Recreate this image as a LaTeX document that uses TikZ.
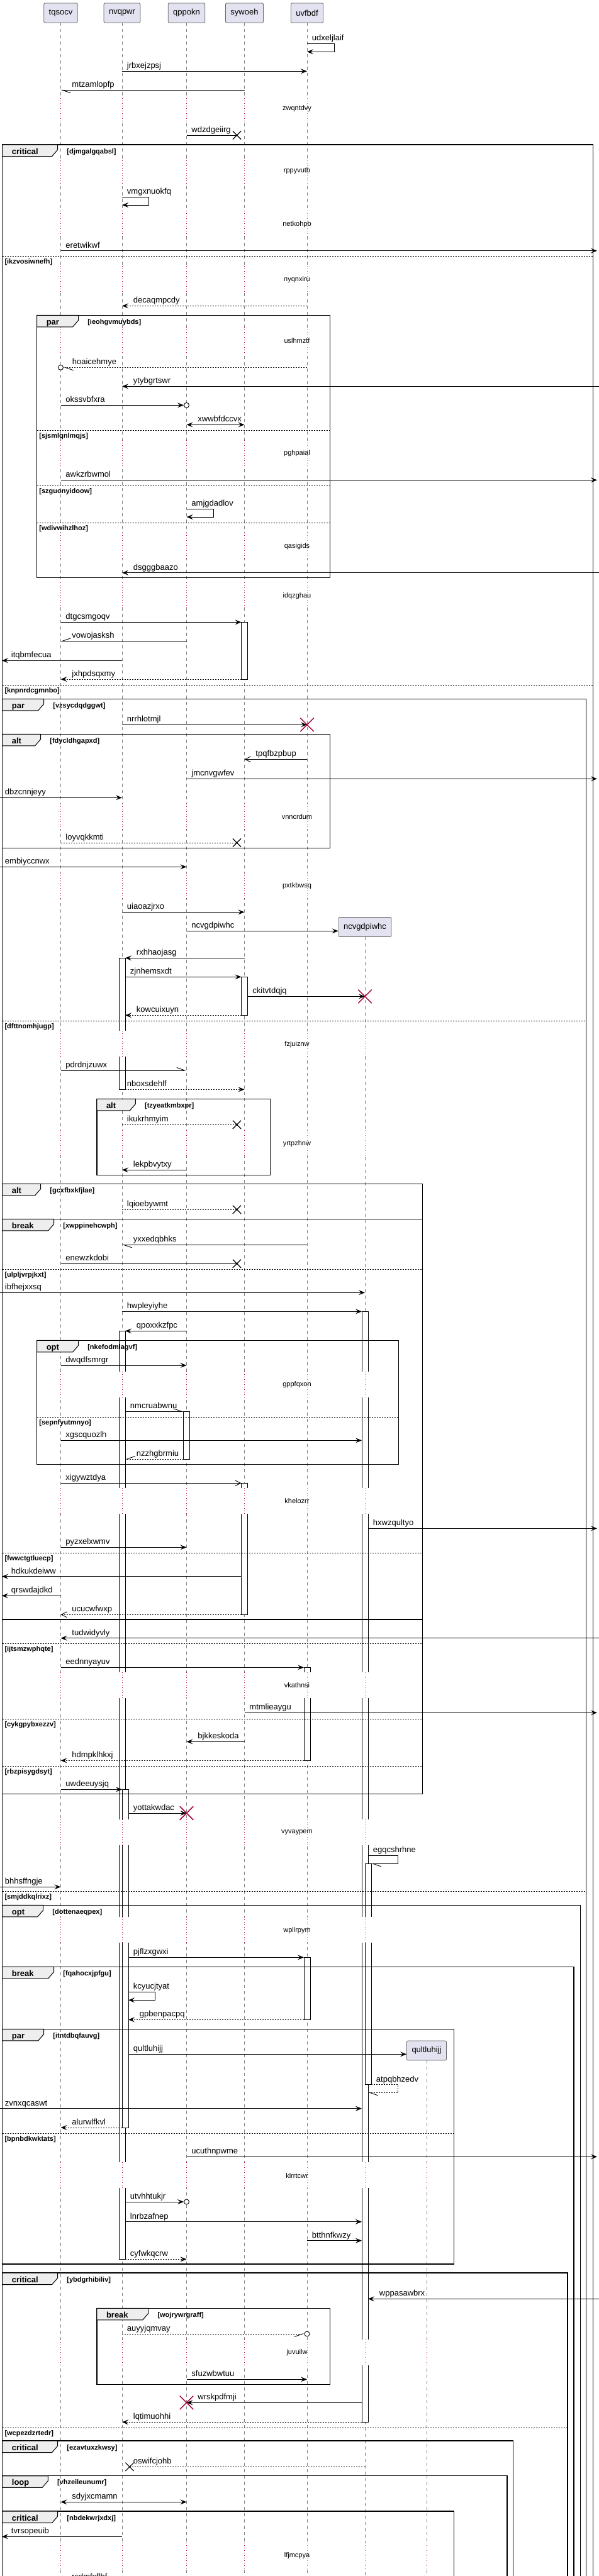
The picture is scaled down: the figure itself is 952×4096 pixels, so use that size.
\documentclass[tikz,border=0pt]{standalone}
\usepackage{fontspec}
\setmainfont{Liberation Sans}
\usetikzlibrary{arrows.meta, shapes.misc}
\definecolor{PartFill}{HTML}{E2E2F0}
\definecolor{TabGray}{HTML}{EEEEEE}
\definecolor{LifeGray}{HTML}{808080}
\definecolor{Crimson}{HTML}{A80036}
\newcommand\msgf{\fontsize{13}{15}\selectfont}
\newcommand\dlyf{\fontsize{11}{13}\selectfont}
\newcommand\grdf{\fontsize{11}{13}\selectfont\bfseries}
\newcommand\tabf{\fontsize{13}{15}\selectfont\bfseries}

\begin{document}
\begin{tikzpicture}[x=1pt, y=-1pt,
    >={Stealth[length=10pt,width=8pt,inset=4pt]},
    part/.style={draw=black!60, fill=PartFill, rounded corners=2pt, line width=0.8pt,
                 minimum height=31pt, inner xsep=8pt, font=\msgf},
    life/.style={draw=LifeGray, line width=0.8pt, dash pattern=on 5pt off 5pt},
    gap/.style={draw=white, line width=24pt},
    dlyred/.style={draw=Crimson, line width=0.9pt, dash pattern=on 1pt off 3pt},
    dlygray/.style={draw=LifeGray, line width=0.9pt, dash pattern=on 1pt off 3pt},
    act/.style={draw=black, fill=white, line width=0.7pt},
    msg/.style={draw=black, line width=0.9pt, ->},
    dsh/.style={dash pattern=on 2pt off 2pt},
    opn/.style={-{Straight Barb[length=9pt,width=9pt]}},
    hl/.style={-{Straight Barb[left,length=13pt,width=9pt]}},
    hr/.style={-{Straight Barb[right,length=13pt,width=9pt]}},
    lr/.style={pos=0, anchor=base west, xshift=7.5pt, yshift=4.5pt, inner sep=0pt, font=\msgf},
    rl/.style={pos=1, anchor=base west, xshift=17.5pt, yshift=4.5pt, inner sep=0pt, font=\msgf},
    slf/.style={anchor=base west, xshift=7.5pt, yshift=4.5pt, inner sep=0pt, font=\msgf},
    dly/.style={font=\dlyf, inner sep=1pt},
    lostx/.style={cross out, draw=black, line width=1.2pt, minimum size=12pt, inner sep=0pt},
    kill/.style={cross out, draw=Crimson, line width=1.5pt, minimum size=20pt, inner sep=0pt},
    circ/.style={circle, draw=black, fill=white, line width=0.9pt, minimum size=8pt, inner sep=0pt},
    frm/.style={draw=black, line width=1.4pt},
    sepl/.style={draw=black, line width=0.8pt, dash pattern=on 2pt off 2pt},
    grd/.style={anchor=base west, inner sep=0pt, font=\grdf},
    tabtxt/.style={anchor=base west, inner sep=0pt, font=\tabf},
    pics/fragtab/.style args={#1/#2/#3}{code={
      \draw[fill=TabGray, line width=1pt] (0,0) -- (#2,0) -- (#2,8) -- (#2-9,18.5) -- (0,18.5) -- cycle;
      \node[tabtxt] at (15,15) {#1};
      \node[grd] at (#2+14.5,14) {#3};
    }}
  ]
  \useasboundingbox (0,0) rectangle (952,4096);
  \fill[white] (0,0) rectangle (952,4096);

  % participants
  \node[part] (tq) at (96.5,20.5) {tqsocv};
  \node[part] (nv) at (194,20.5) {nvqpwr};
  \node[part] (qp) at (296.5,20.5) {qppokn};
  \node[part] (sy) at (388.5,20.5) {sywoeh};
  \node[part] (uv) at (488,20.5) {uvfbdf};
  \node[part] (nc) at (580,1474) {ncvgdpiwhc};
  \node[part] (ql) at (678,3260.5) {qultluhijj};

  % edges and activation sides
  \coordinate (lft) at (0,0);
  \coordinate (lftT) at (3,0);
  \coordinate (rgt) at (952,0);
  \coordinate (rgtT) at (949,0);
  \path (nv) ++(-5,0) coordinate (nvL) ++(10,0) coordinate (nvR) ++(5,0) coordinate (nvR2);
  \path (nv) ++(12,0) coordinate (nvX);
  \path (qp) ++(-5,0) coordinate (qpL);
  \path (sy) ++(-5,0) coordinate (syL) ++(10,0) coordinate (syR);
  \path (sy) ++(-12,0) coordinate (syX);
  \path (uv) ++(-5,0) coordinate (uvL);
  \path (nc) ++(-5,0) coordinate (ncL) ++(10,0) coordinate (ncR) ++(5,0) coordinate (ncR2);

  % lifelines
  \foreach \p in {tq,nv,qp,sy,uv,nc,ql}
    \draw[life] (\p.south) -- (\p |- 0,4096);

  % activations
  \draw[act] (383.5,989.3) rectangle (393.5,1080);
  \draw[act] (189,1523.3) rectangle (199,1732.3);
  \draw[act] (383.5,1553.3) rectangle (393.5,1614.3);
  \draw[act] (575,2085.3) rectangle (585,3851.3);
  \draw[act] (189,2116.3) rectangle (199,3592.3);
  \draw[act] (291.5,2244.3) rectangle (301.5,2320);
  \draw[act] (383.5,2358.3) rectangle (393.5,2567.3);
  \draw[act] (483,2651.3) rectangle (493,2799.3);
  \draw[act] (194,2845.3) rectangle (204,3383);
  \draw[act] (580,2963.3) rectangle (590,3314.7);
  \draw[act] (483,3112.3) rectangle (493,3211.3);

  % delays: lifelines turn dotted
  \def\alldly{173,271.7,356.3,444.3,541.3,720.7,868.3,947.3,1298.7,1408.7,1660.3,1818.3,2201.7,2387,2680,2913.7,3069.3,3459.3,3741,4063.7}
  \foreach \p in {tq,nv,qp,sy}
    \foreach \ty in \alldly {
      \draw[gap] (\p |- 0,\ty-21) -- (\p |- 0,\ty+20);
      \draw[dlyred] (\p |- 0,\ty-21) -- (\p |- 0,\ty+20);
    }
  \foreach \ty in \alldly {
    \draw[gap] (uv |- 0,\ty-21) -- (uv |- 0,\ty+20);
    \draw[dlygray] (uv |- 0,\ty-21) -- (uv |- 0,\ty+20);
  }
  \foreach \ty in {1660.3,1818.3,2201.7,2387,2680,2913.7,3069.3,3459.3,3741,4063.7} {
    \draw[gap] (nc |- 0,\ty-21) -- (nc |- 0,\ty+20);
    \draw[dlygray] (nc |- 0,\ty-21) -- (nc |- 0,\ty+20);
  }
  \foreach \ty in {3459.3,3741,4063.7} {
    \draw[gap] (ql |- 0,\ty-21) -- (ql |- 0,\ty+20);
    \draw[dlyred] (ql |- 0,\ty-21) -- (ql |- 0,\ty+20);
  }
  \foreach \ty/\t [count=\i] in {173/zwqntdvy, 271.7/rppyvutb, 356.3/netkohpb, 444.3/nyqnxiru,
      541.3/uslhmztf, 720.7/pghpaial, 868.3/qasigids, 947.3/idqzghau, 1298.7/vnncrdum,
      1408.7/pxtkbwsq, 1660.3/fzjuiznw, 1818.3/yrtpzhnw, 2201.7/gppfqxon, 2387/khelozrr,
      2680/vkathnsi, 2913.7/vyvaypem, 3069.3/wpllrpym, 3459.3/klrrtcwr, 3741/juvuilw,
      4063.7/lfjmcpya}
    \node[dly] (dl\i) at (472,\ty) {\t};

  % fragments
  \draw[frm] (3.7,230) rectangle (942.6,4110);
  \pic at (3.7,230) {fragtab={critical/88/{[djmgalgqabsl]}}};
  \draw[sepl] (3.7,407.3) -- (942.6,407.3);
  \node[grd] (g1) at (7.3,419.3) {[ikzvosiwnefh]};
  \draw[sepl] (3.7,1089.3) -- (942.6,1089.3);
  \node[grd] (g2) at (7.3,1101.3) {[knpnrdcgmnbo]};

  \draw[frm] (58.6,501.3) rectangle (524.7,918.3);
  \pic at (58.6,501.3) {fragtab={par/66/{[ieohgvmuybds]}}};
  \draw[sepl] (58.6,684.3) -- (524.7,684.3);
  \node[grd] (g3) at (62.2,696.3) {[sjsmlqnlmqjs]};
  \draw[sepl] (58.6,772.3) -- (524.7,772.3);
  \node[grd] (g4) at (62.2,784.3) {[szguonyidoow]};
  \draw[sepl] (58.6,831) -- (524.7,831);
  \node[grd] (g5) at (62.2,843) {[wdivwihzlhoz]};

  \draw[frm] (3.7,1111.3) rectangle (931.7,4110);
  \pic at (3.7,1111.3) {fragtab={par/66/{[vzsycdqdggwt]}}};
  \draw[sepl] (3.7,1623.3) -- (931.7,1623.3);
  \node[grd] (g6) at (7.3,1635.3) {[dfttnomhjugp]};
  \draw[sepl] (3.7,3007.3) -- (931.7,3007.3);
  \node[grd] (g7) at (7.3,3019.3) {[smjddkqlrixz]};

  \draw[frm] (3.7,1167.3) rectangle (524.7,1348.3);
  \pic at (3.7,1167.3) {fragtab={alt/61/{[fdycldhgapxd]}}};

  \draw[frm] (153.8,1747.3) rectangle (429.5,1868.3);
  \pic at (153.8,1747.3) {fragtab={alt/61.6/{[tzyeatkmbxpr]}}};

  \draw[frm] (3.7,1882.3) rectangle (671.7,2852.7);
  \pic at (3.7,1882.3) {fragtab={alt/61/{[gcxfbxkfjlae]}}};
  \draw[sepl] (3.7,2613.3) -- (671.7,2613.3);
  \node[grd] (g8) at (7.3,2625.3) {[ijtsmzwphqte]};
  \draw[sepl] (3.7,2733) -- (671.7,2733);
  \node[grd] (g9) at (7.3,2745) {[cykgpybxezzv]};
  \draw[sepl] (3.7,2808) -- (671.7,2808);
  \node[grd] (g10) at (7.3,2820) {[rbzpisygdsyt]};

  \draw[frm] (3.7,1938.3) rectangle (671.7,2575);
  \pic at (3.7,1938.3) {fragtab={break/82/{[xwppinehcwph]}}};
  \draw[sepl] (3.7,2018.3) -- (671.7,2018.3);
  \node[grd] (g11) at (7.3,2030.3) {[ulpljvrpjkxt]};
  \draw[sepl] (3.7,2469.3) -- (671.7,2469.3);
  \node[grd] (g12) at (7.3,2481.3) {[fwwctgtluecp]};

  \draw[frm] (58.6,2131.3) rectangle (633.3,2328.3);
  \pic at (58.6,2131.3) {fragtab={opt/66/{[nkefodmlagvf]}}};
  \draw[sepl] (58.6,2253.3) -- (633.3,2253.3);
  \node[grd] (g13) at (62.2,2265.3) {[sepnfyutmnyo]};

  \draw[frm] (3.7,3029.3) rectangle (922.5,4110);
  \pic at (3.7,3029.3) {fragtab={opt/65/{[dottenaeqpex]}}};

  \draw[frm] (3.7,3127.3) rectangle (912.1,4110);
  \pic at (3.7,3127.3) {fragtab={break/82/{[fqahocxjpfgu]}}};

  \draw[frm] (3.7,3226.3) rectangle (721.2,3600);
  \pic at (3.7,3226.3) {fragtab={par/66/{[itntdbqfauvg]}}};
  \draw[sepl] (3.7,3392) -- (721.2,3392);
  \node[grd] (g14) at (7.3,3404) {[bpnbdkwktats]};

  \draw[frm] (3.7,3614) rectangle (901.8,4110);
  \pic at (3.7,3614) {fragtab={critical/88/{[ybdgrhibiliv]}}};
  \draw[sepl] (3.7,3860.3) -- (901.8,3860.3);
  \node[grd] (g15) at (7.3,3872.3) {[wcpezdzrtedr]};

  \draw[frm] (153.8,3670.3) rectangle (524.7,3791.3);
  \pic at (153.8,3670.3) {fragtab={break/82/{[wojrywrgraff]}}};

  \draw[frm] (3.7,3881) rectangle (815.7,4110);
  \pic at (3.7,3881) {fragtab={critical/88/{[ezavtuxzkwsy]}}};

  \draw[frm] (3.7,3936.7) rectangle (806,4110);
  \pic at (3.7,3936.7) {fragtab={loop/72.6/{[vhzeileunumr]}}};

  \draw[frm] (3.7,3993) rectangle (721.2,4110);
  \pic at (3.7,3993) {fragtab={critical/88/{[nbdekwrjxdxj]}}};

  % messages
  \draw[msg] (uv |- 0,69.3) node[slf] {udxeljlaif} -- ++(43,0) |- (uv |- 0,82.3);
  \draw[msg] (nv |- 0,113.3) -- (uv |- 0,113.3) node[lr] {jrbxejzpsj};
  \draw[msg, hl] (sy |- 0,143.3) -- (tq |- 0,143.3) node[rl] {mtzamlopfp};
  \node[lostx] (x1) at (syX |- 0,215) {};
  \draw[msg, -] (qp |- 0,215) -- (x1.center) node[lr] {wdzdgeiirg};
  \draw[msg] (nv |- 0,313.3) node[slf] {vmgxnuokfq} -- ++(42,0) |- (nv |- 0,326);
  \draw[msg] (tq |- 0,398.7) -- (rgtT |- 0,398.7) node[lr] {eretwikwf};
  \draw[msg, dsh] (uv |- 0,486.3) -- (nv |- 0,486.3) node[rl] {decaqmpcdy};
  \node[circ] (c1) at (tq |- 0,584.3) {};
  \draw[msg, dsh, hl] (uv |- 0,584.3) -- (c1.east) node[rl, xshift=-4pt] {hoaicehmye};
  \draw[msg] (rgt |- 0,614.3) -- (nv |- 0,614.3) node[rl] {ytybgrtswr};
  \node[circ] (c2) at (qp |- 0,644.3) {};
  \draw[msg] (tq |- 0,644.3) -- (c2.west) node[lr] {okssvbfxra};
  \draw[msg, <->] (qp |- 0,675.3) -- (sy |- 0,675.3) node[lr, xshift=10pt] {xwwbfdccvx};
  \draw[msg] (tq |- 0,763.3) -- (rgtT |- 0,763.3) node[lr] {awkzrbwmol};
  \draw[msg] (qp |- 0,809.3) node[slf] {amjgdadlov} -- ++(42.5,0) |- (qp |- 0,822);
  \draw[msg] (rgt |- 0,910.7) -- (nv |- 0,910.7) node[rl] {dsgggbaazo};
  \draw[msg] (tq |- 0,989.3) -- (syL |- 0,989.3) node[lr] {dtgcsmgoqv};
  \draw[msg, hr] (qp |- 0,1019.3) -- (tq |- 0,1019.3) node[rl] {vowojasksh};
  \draw[msg] (nv |- 0,1050.3) -- (lftT |- 0,1050.3) node[rl, xshift=-3pt] {itqbmfecua};
  \draw[msg, dsh] (syL |- 0,1080) -- (tq |- 0,1080) node[rl] {jxhpdsqxmy};
  \draw[msg] (nv |- 0,1152.3) -- (uv |- 0,1152.3) node[lr] {nrrhlotmjl};
  \node[kill] (k1) at (uv |- 0,1152.3) {};
  \draw[msg, opn] (uv |- 0,1207.3) -- (sy |- 0,1207.3) node[rl] {tpqfbzpbup};
  \draw[msg] (qp |- 0,1238.3) -- (rgtT |- 0,1238.3) node[lr] {jmcnvgwfev};
  \draw[msg] (lft |- 0,1268.3) -- (nv |- 0,1268.3) node[lr] {dbzcnnjeyy};
  \node[lostx] (x2) at (syX |- 0,1340) {};
  \draw[msg, dsh, -] (tq |- 0,1340) -- (x2.center) node[lr] {loyvqkkmti};
  \draw[msg] (lft |- 0,1378.3) -- (qp |- 0,1378.3) node[lr] {embiyccnwx};
  \draw[msg] (nv |- 0,1450.3) -- (sy |- 0,1450.3) node[lr] {uiaoazjrxo};
  \draw[msg] (qp |- 0,1480.3) -- (nc.west |- 0,1480.3) node[lr] {ncvgdpiwhc};
  \draw[msg] (sy |- 0,1523.3) -- (nvR |- 0,1523.3) node[rl] {rxhhaojasg};
  \draw[msg] (nvR |- 0,1553.3) -- (syL |- 0,1553.3) node[lr] {zjnhemsxdt};
  \draw[msg] (syR |- 0,1584.3) -- (nc |- 0,1584.3) node[lr] {ckitvtdqjq};
  \node[kill] (k2) at (nc |- 0,1584.3) {};
  \draw[msg, dsh] (syL |- 0,1614.3) -- (nvR |- 0,1614.3) node[rl] {kowcuixuyn};
  \draw[msg, hl] (tq |- 0,1702) -- (qp |- 0,1702) node[lr] {pdrdnjzuwx};
  \draw[msg, dsh] (nvR |- 0,1732.3) -- (sy |- 0,1732.3) node[lr, xshift=-5pt] {nboxsdehlf};
  \node[lostx] (x3) at (syX |- 0,1788.3) {};
  \draw[msg, dsh, -] (nv |- 0,1788.3) -- (x3.center) node[lr] {ikukrhmyim};
  \draw[msg] (qp |- 0,1860.3) -- (nv |- 0,1860.3) node[rl] {lekpbvytxy};
  \node[lostx] (x4) at (syX |- 0,1923.3) {};
  \draw[msg, dsh, -] (nv |- 0,1923.3) -- (x4.center) node[lr] {lqioebywmt};
  \draw[msg, hl] (uv |- 0,1979.3) -- (nv |- 0,1979.3) node[rl] {yxxedqbhks};
  \node[lostx] (x5) at (syX |- 0,2009.3) {};
  \draw[msg, -] (tq |- 0,2009.3) -- (x5.center) node[lr] {enewzkdobi};
  \draw[msg] (lft |- 0,2055.3) -- (nc |- 0,2055.3) node[lr] {ibfhejxxsq};
  \draw[msg] (nv |- 0,2085.3) -- (ncL |- 0,2085.3) node[lr] {hwpleyiyhe};
  \draw[msg] (qp |- 0,2116.3) -- (nvR |- 0,2116.3) node[rl] {qpoxxkzfpc};
  \draw[msg] (tq |- 0,2171) -- (qp |- 0,2171) node[lr] {dwqdfsmrgr};
  \draw[msg, hl] (nvR |- 0,2244.3) -- (qpL |- 0,2244.3) node[lr] {nmcruabwnu};
  \draw[msg] (tq |- 0,2290.3) -- (ncL |- 0,2290.3) node[lr] {xgscquozlh};
  \draw[msg, dsh, hr] (qpL |- 0,2320) -- (nvR |- 0,2320) node[rl] {nzzhgbrmiu};
  \draw[msg, opn] (tq |- 0,2358.3) -- (syL |- 0,2358.3) node[lr] {xigywztdya};
  \draw[msg] (ncR |- 0,2430.3) -- (rgtT |- 0,2430.3) node[lr] {hxwzqultyo};
  \draw[msg] (tq |- 0,2460.3) -- (qp |- 0,2460.3) node[lr] {pyzxelxwmv};
  \draw[msg] (syL |- 0,2506.7) -- (lftT |- 0,2506.7) node[rl, xshift=-3pt] {hdkukdeiww};
  \draw[msg] (tq |- 0,2537.3) -- (lftT |- 0,2537.3) node[rl, xshift=-3pt] {qrswdajdkd};
  \draw[msg, dsh, opn] (syL |- 0,2567.3) -- (tq |- 0,2567.3) node[rl] {ucucwfwxp};
  \draw[msg] (rgt |- 0,2604.7) -- (tq |- 0,2604.7) node[rl] {tudwidyvly};
  \draw[msg] (tq |- 0,2651.3) -- (uvL |- 0,2651.3) node[lr] {eednnyayuv};
  \draw[msg] (sy |- 0,2723.3) -- (rgtT |- 0,2723.3) node[lr] {mtmlieaygu};
  \draw[msg] (sy |- 0,2769.3) -- (qp |- 0,2769.3) node[rl] {bjkkeskoda};
  \draw[msg, dsh] (uvL |- 0,2799.3) -- (tq |- 0,2799.3) node[rl] {hdmpklhkxj};
  \draw[msg] (tq |- 0,2845.3) -- (nv |- 0,2845.3) node[lr] {uwdeeuysjq};
  \draw[msg] (nvR2 |- 0,2883) -- (qp |- 0,2883) node[lr] {yottakwdac};
  \node[kill] (k3) at (qp |- 0,2883) {};
  \draw[msg, hl] (ncR |- 0,2950.3) node[slf] {egqcshrhne} -- ++(47.7,0) |- (ncR2 |- 0,2963.3);
  \draw[msg] (lft |- 0,3000.3) -- (tq |- 0,3000.3) node[lr] {bhhsffngje};
  \draw[msg] (nvR2 |- 0,3112.3) -- (uvL |- 0,3112.3) node[lr] {pjflzxgwxi};
  \draw[msg] (nvR2 |- 0,3167.3) node[slf] {kcyucjtyat} -- ++(42,0) |- (nvR2 |- 0,3180.3);
  \draw[msg, dsh] (uvL |- 0,3211.3) -- (nvR2 |- 0,3211.3) node[rl] {gpbenpacpq};
  \draw[msg] (nvR2 |- 0,3266.3) -- (ql.west |- 0,3266.3) node[lr] {qultluhijj};
  \draw[msg, dsh, hl] (ncR2 |- 0,3314.7) node[slf] {atpqbhzedv} -- ++(42.7,0) |- (ncR |- 0,3327.3);
  \draw[msg] (lft |- 0,3352.7) -- (ncL |- 0,3352.7) node[lr] {zvnxqcaswt};
  \draw[msg, dsh] (nv |- 0,3383) -- (tq |- 0,3383) node[rl] {alurwlfkvl};
  \draw[msg] (qp |- 0,3429.3) -- (rgtT |- 0,3429.3) node[lr] {ucuthnpwme};
  \node[circ] (c3) at (qp |- 0,3501) {};
  \draw[msg] (nvR |- 0,3501) -- (c3.west) node[lr] {utvhhtukjr};
  \draw[msg] (nvR |- 0,3532.7) -- (ncL |- 0,3532.7) node[lr] {lnrbzafnep};
  \draw[msg] (uv |- 0,3562.7) -- (ncL |- 0,3562.7) node[lr] {btthnfkwzy};
  \draw[msg, dsh] (nvR |- 0,3592.3) -- (qp |- 0,3592.3) node[lr] {cyfwkqcrw};
  \draw[msg] (rgt |- 0,3655.3) -- (ncR |- 0,3655.3) node[rl] {wppasawbrx};
  \node[circ] (c4) at (uv |- 0,3711) {};
  \draw[msg, dsh, hr] (nv |- 0,3711) -- (c4.west) node[lr] {auyyjqmvay};
  \draw[msg] (qp |- 0,3783.3) -- (uv |- 0,3783.3) node[lr] {sfuzwbwtuu};
  \draw[msg] (ncL |- 0,3820.3) -- (qp |- 0,3820.3) node[rl] {wrskpdfmji};
  \node[kill] (k4) at (qp |- 0,3820.3) {};
  \draw[msg, dsh] (ncL |- 0,3851.3) -- (nv |- 0,3851.3) node[rl] {lqtimuohhi};
  \node[lostx] (x6) at (nvX |- 0,3922.3) {};
  \draw[msg, dsh, -] (nc |- 0,3922.3) -- (x6.center) node[rl, xshift=-12pt] {oswifcjohb};
  \draw[msg, <->] (tq |- 0,3978.3) -- (qp |- 0,3978.3) node[lr, xshift=10pt] {sdyjxcmamn};
  \draw[msg] (nv |- 0,4033.3) -- (lftT |- 0,4033.3) node[rl, xshift=-3pt] {tvrsopeuib};
  \node[anchor=base west, inner sep=0pt, font=\msgf] (cut) at (114,4101.5) {rsdmfxflbf};
\end{tikzpicture}
\end{document}
